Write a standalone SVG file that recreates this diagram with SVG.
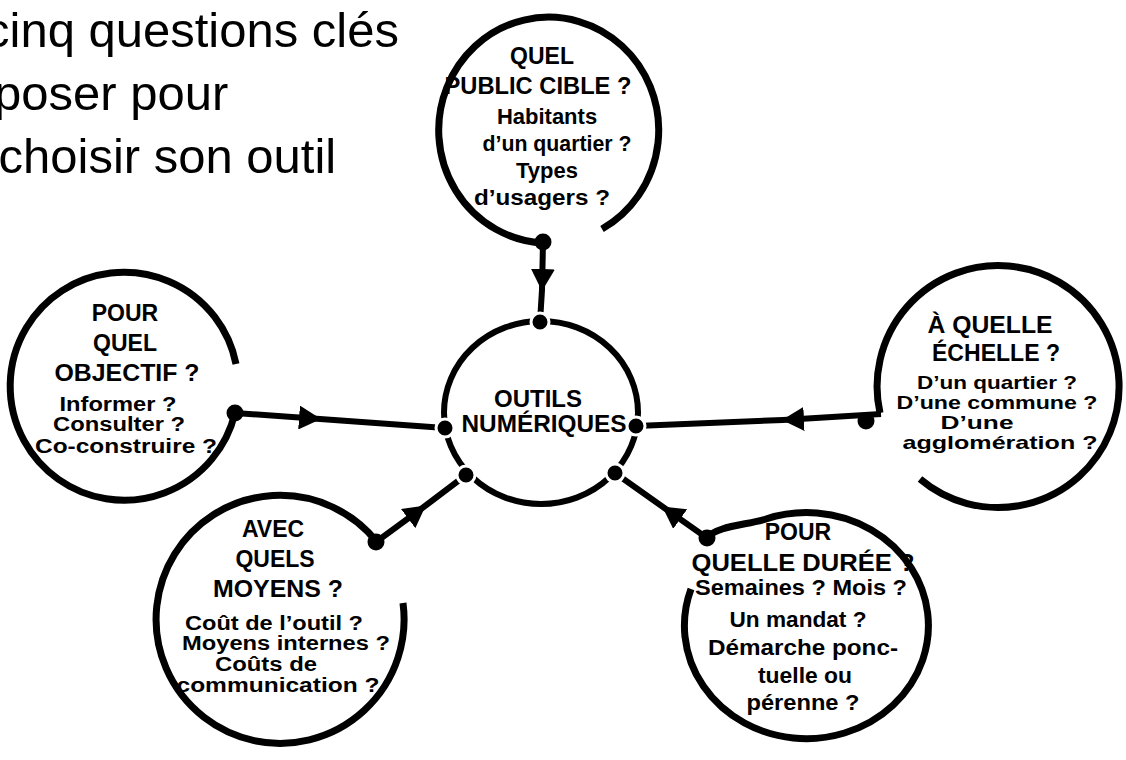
<svg xmlns="http://www.w3.org/2000/svg" width="1126" height="760" viewBox="0 0 1126 760">
<style>
.ring{fill:none;stroke:#000;stroke-width:7}
.cring{fill:none;stroke:#000;stroke-width:6}
.conn{fill:none;stroke:#000;stroke-width:6;marker-mid:url(#arr)}
.dot{fill:#000}
.hdot{fill:#000;stroke:#fff;stroke-width:3}
.h{font-family:"Liberation Sans",Arial,sans-serif;font-weight:bold;font-size:23px;text-anchor:middle;fill:#000}
.s{font-family:"Liberation Sans",Arial,sans-serif;font-weight:bold;font-size:22px;text-anchor:middle;fill:#000}
.d{font-family:"Liberation Sans",Arial,sans-serif;font-weight:bold;font-size:20px;text-anchor:middle;fill:#000}
.e{font-family:"Liberation Sans",Arial,sans-serif;font-weight:bold;font-size:19px;text-anchor:middle;fill:#000}
.c{font-family:"Liberation Sans",Arial,sans-serif;font-weight:bold;font-size:24px;text-anchor:middle;fill:#000}
.t{font-family:"Liberation Sans",Arial,sans-serif;font-size:49px;fill:#000}
</style>
<defs>
<marker id="arr" markerUnits="userSpaceOnUse" viewBox="0 0 22 24" markerWidth="22" markerHeight="24" refX="21" refY="12" orient="auto">
<path d="M0,0 L22,12 L0,24 z" fill="#000"/>
</marker>
</defs>
<rect width="1126" height="760" fill="#fff"/>
<g id="title">
<text class="t" x="-15" y="47">cinq questions clés</text>
<text class="t" x="-6" y="110">poser pour</text>
<text class="t" x="-1.5" y="173">choisir son outil</text>
</g>
<g id="connectors">
<polyline class="conn" points="543,242 542,290 540,322"/>
<polyline class="conn" points="235,413 320,419 445,428"/>
<polyline class="conn" points="881,414 783,420 636,426"/>
<polyline class="conn" points="376,542 425,506 466,475"/>
<polyline class="conn" points="707,538 663,507 615,473"/>
</g>
<g id="public">
<path class="ring" d="M543,243 A110,113 0 1 1 602,229"/>
<circle class="dot" cx="543" cy="242" r="8.5"/>
<text class="h" x="542" y="64">QUEL</text>
<text class="h" x="538" y="94" textLength="187" lengthAdjust="spacingAndGlyphs">PUBLIC CIBLE ?</text>
<text class="s" x="547" y="124">Habitants</text>
<text class="s" x="557" y="151" textLength="149" lengthAdjust="spacingAndGlyphs">d’un quartier ?</text>
<text class="s" x="547" y="178">Types</text>
<text class="s" x="542" y="205" textLength="136" lengthAdjust="spacingAndGlyphs">d’usagers ?</text>
</g>
<g id="objectif">
<path class="ring" d="M235,413 A114,114 0 1 1 236,364"/>
<circle class="dot" cx="235" cy="413" r="8.5"/>
<text class="h" x="125" y="321">POUR</text>
<text class="h" x="125" y="351">QUEL</text>
<text class="h" x="127" y="381" textLength="145" lengthAdjust="spacingAndGlyphs">OBJECTIF ?</text>
<text class="d" x="118" y="411" textLength="117" lengthAdjust="spacingAndGlyphs">Informer ?</text>
<text class="d" x="119" y="431" textLength="132" lengthAdjust="spacingAndGlyphs">Consulter ?</text>
<text class="d" x="126" y="453" textLength="182" lengthAdjust="spacingAndGlyphs">Co-construire ?</text>
</g>
<g id="echelle">
<path class="ring" d="M880,413 A121,121 0 1 1 920,479"/>
<circle class="dot" cx="866" cy="421" r="8.5"/>
<text class="h" x="990" y="333" textLength="125" lengthAdjust="spacingAndGlyphs">À QUELLE</text>
<text class="h" x="996" y="361" textLength="128" lengthAdjust="spacingAndGlyphs">ÉCHELLE ?</text>
<text class="e" x="997" y="389" textLength="160" lengthAdjust="spacingAndGlyphs">D’un quartier ?</text>
<text class="e" x="997" y="409" textLength="201" lengthAdjust="spacingAndGlyphs">D’une commune ?</text>
<text class="e" x="977" y="429" textLength="73" lengthAdjust="spacingAndGlyphs">D’une</text>
<text class="e" x="1000" y="449" textLength="195" lengthAdjust="spacingAndGlyphs">agglomération ?</text>
</g>
<g id="moyens">
<path class="ring" d="M403,603 A124,124 0 1 1 377,542"/>
<circle class="dot" cx="376" cy="542" r="8.5"/>
<text class="h" x="273" y="537">AVEC</text>
<text class="h" x="275" y="567">QUELS</text>
<text class="h" x="278" y="597" textLength="130" lengthAdjust="spacingAndGlyphs">MOYENS ?</text>
<text class="d" x="274" y="630" textLength="178" lengthAdjust="spacingAndGlyphs">Coût de l’outil ?</text>
<text class="d" x="286" y="650" textLength="208" lengthAdjust="spacingAndGlyphs">Moyens internes ?</text>
<text class="d" x="266" y="671" textLength="102" lengthAdjust="spacingAndGlyphs">Coûts de</text>
<text class="d" x="278" y="692" textLength="203" lengthAdjust="spacingAndGlyphs">communication ?</text>
</g>
<g id="duree">
<path class="ring" d="M707,538 C716,526 747,525 766,519 A122,113 0 1 1 691,589"/>
<circle class="dot" cx="707" cy="538" r="8.5"/>
<text class="h" x="798" y="540">POUR</text>
<text class="h" x="803" y="571" textLength="223" lengthAdjust="spacingAndGlyphs">QUELLE  DURÉE ?</text>
<text class="s" x="801" y="595" textLength="212" lengthAdjust="spacingAndGlyphs">Semaines ? Mois ?</text>
<text class="s" x="798" y="627" textLength="137" lengthAdjust="spacingAndGlyphs">Un mandat ?</text>
<text class="s" x="803" y="655" textLength="190" lengthAdjust="spacingAndGlyphs">Démarche ponc-</text>
<text class="s" x="805" y="683" textLength="94" lengthAdjust="spacingAndGlyphs">tuelle ou</text>
<text class="s" x="803" y="710" textLength="113" lengthAdjust="spacingAndGlyphs">pérenne ?</text>
</g>
<g id="outils">
<ellipse class="cring" cx="541" cy="412.5" rx="97" ry="91.5"/>
<circle class="hdot" cx="540" cy="322" r="9"/>
<circle class="hdot" cx="445" cy="428" r="9"/>
<circle class="hdot" cx="636" cy="426" r="9"/>
<circle class="hdot" cx="466" cy="475" r="9"/>
<circle class="hdot" cx="615" cy="473" r="9"/>
<text class="c" x="538" y="407">OUTILS</text>
<text class="c" x="544" y="432" textLength="165" lengthAdjust="spacingAndGlyphs">NUMÉRIQUES</text>
</g>
</svg>
